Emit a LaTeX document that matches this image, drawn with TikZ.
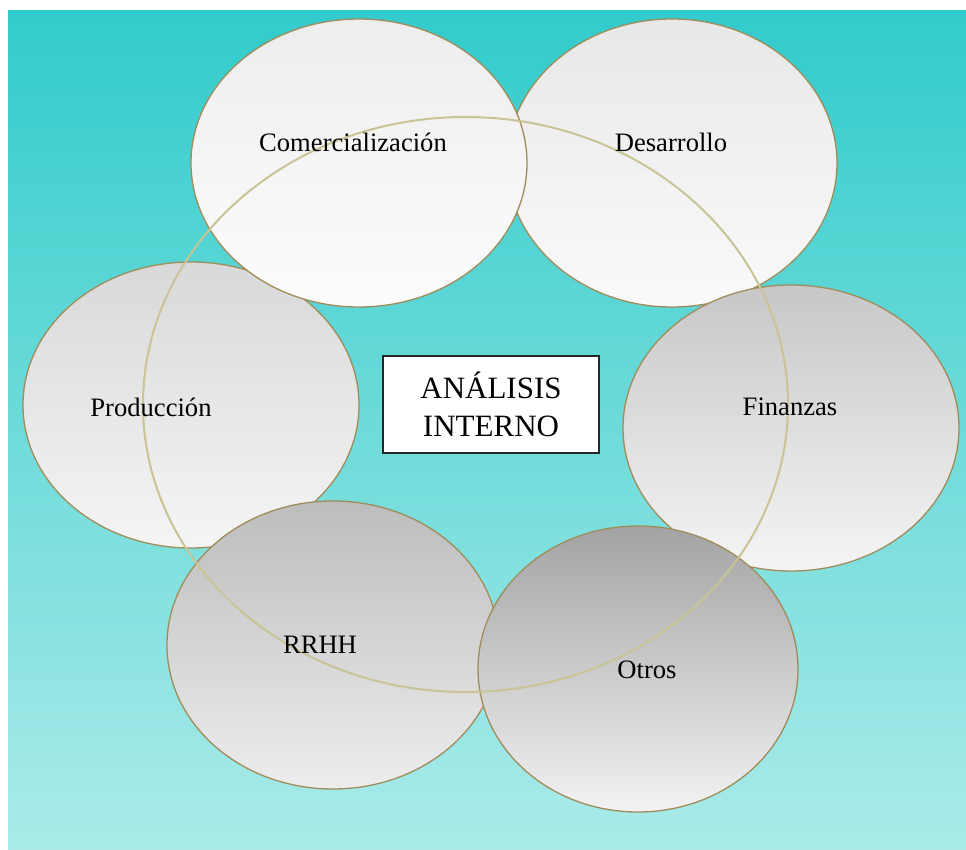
\documentclass[tikz,border=0pt]{standalone}
\usepackage{fontspec}
\setmainfont{Liberation Serif}
\usetikzlibrary{shapes.geometric}
\definecolor{bgtop}{RGB}{50,203,203}
\definecolor{bgbot}{RGB}{170,235,233}
\definecolor{ringc}{RGB}{200,196,150}
\definecolor{edgec}{RGB}{160,140,90}
\tikzset{
  blob/.style={ellipse, draw=edgec, line width=1.3bp, inner sep=0pt},
  lbl/.style={font=\fontsize{26.6bp}{30bp}\selectfont, text=black, inner sep=0pt},
  titlebox/.style={draw=black!85, line width=1.5bp, fill=white, align=center,
    minimum width=216bp, minimum height=97bp, inner sep=0pt,
    font=\fontsize{31bp}{38bp}\selectfont}
}
\begin{document}
\begin{tikzpicture}[x=1bp,y=-1bp]
\useasboundingbox (0,0) rectangle (966,850);
\fill[white] (0,0) rectangle (966,850);
\shade[top color=bgtop, bottom color=bgbot] (8,10) rectangle (966,850);
% ellipses, back to front
\node[blob, top color=black!9, bottom color=black!2, minimum width=330bp, minimum height=288bp] (des) at (672,163) {};
\node[blob, top color=black!15, bottom color=black!4, minimum width=336bp, minimum height=286bp] (pro) at (191,405) {};
\node[blob, top color=black!7, bottom color=black!1, minimum width=336bp, minimum height=288bp] (com) at (359,163) {};
\node[blob, top color=black!22, bottom color=black!4, minimum width=336bp, minimum height=286bp] (fin) at (791,428) {};
\node[blob, top color=black!26, bottom color=black!7, minimum width=332bp, minimum height=288bp] (rrh) at (333,645) {};
\node[blob, top color=black!36, bottom color=black!5, minimum width=320bp, minimum height=286bp] (otr) at (638,669) {};
% ring
\node[ellipse, draw=ringc, line width=2bp, inner sep=0pt, minimum width=645bp, minimum height=575bp] (ring) at (465.5,404.5) {};
% labels
\node[lbl] (tcom) at (353,142) {Comercialización};
\node[lbl] (tdes) at (671,142) {Desarrollo};
\node[lbl] (tpro) at (151,407) {Producción};
\node[lbl] (tfin) at (790,407) {Finanzas};
\node[lbl] (trrh) at (320,645) {RRHH};
\node[lbl] (totr) at (647,670) {Otros};
\node[titlebox] (box) at (491,404.5) {ANÁLISIS\\INTERNO};
\end{tikzpicture}
\end{document}
